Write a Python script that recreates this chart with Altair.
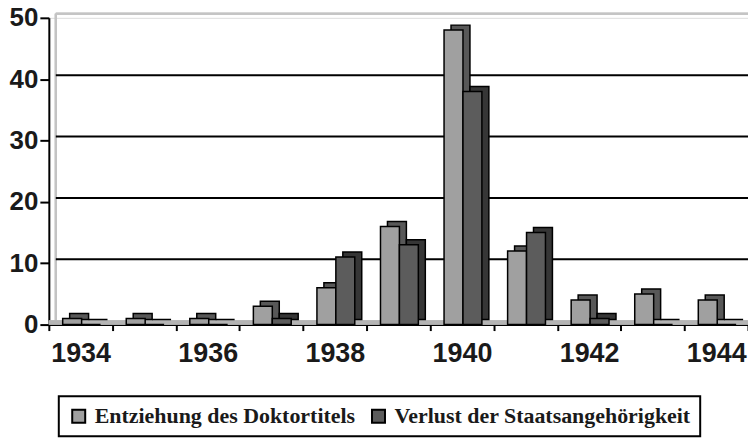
import altair as alt
import pandas as pd

years = ["1934", "1935", "1936", "1937", "1938", "1939", "1940", "1941", "1942", "1943", "1944"]
entziehung = [1, 1, 1, 3, 6, 16, 48, 12, 4, 5, 4]
verlust = [0, 0, 0, 1, 11, 13, 38, 15, 1, 0, 0]
series_names = ["Entziehung des Doktortitels", "Verlust der Staatsangehörigkeit"]
front_colors = ["#a0a0a0", "#5c5c5c"]
side_colors = ["#585858", "#363636"]
grid_values = [10, 20, 30, 40]

rows = []
for i, y in enumerate(years):
    rows.append({"year": y, "series": series_names[0], "value": entziehung[i]})
    rows.append({"year": y, "series": series_names[1], "value": verlust[i]})
df = pd.DataFrame(rows)
grid_df = pd.DataFrame({"v": grid_values})

W = 702
H = 308
DX = 7
DY = -5
GX = 7
GY = -4
BW = 19
SHIFT = 1

SANS = "Arial, 'Liberation Sans', Helvetica, sans-serif"
SERIF = "'Times New Roman', 'Liberation Serif', Times, serif"

xscale = alt.Scale(domain=years, paddingInner=0, paddingOuter=0)
yscale = alt.Scale(domain=[0, 50])

x_axis = alt.Axis(
    title=None, labelAngle=0, tickBand="extent",
    labelExpr="toNumber(datum.value) % 2 == 0 ? datum.label : ''",
    labelFont=SANS, labelFontWeight="bold", labelFontSize=27,
    labelColor="#1a1a1a", labelPadding=10, tickSize=6, tickWidth=2, tickColor="#000",
    domainColor="#000", domainWidth=2, grid=False,
)
y_axis = alt.Axis(
    title=None, values=[0, 10, 20, 30, 40, 50],
    labelFont=SANS, labelFontWeight="bold", labelFontSize=26,
    labelColor="#1a1a1a", labelPadding=2, tickSize=9, tickWidth=2,
    tickColor="#000", domainColor="#000", domainWidth=2, grid=False,
)

legend = alt.Legend(
    title=None, orient="none", legendX=10, legendY=380, direction="horizontal",
    strokeColor="#000", padding=9, fillColor="#fff",
    labelFont=SERIF, labelFontWeight="bold", labelFontSize=22,
    labelColor="#1a1a1a", labelLimit=0, symbolType="square", symbolSize=170,
    symbolStrokeColor="#000", symbolStrokeWidth=2, columnPadding=12, labelOffset=5,
    symbolOpacity=1,
)

walls_left = alt.Chart(grid_df).mark_rule(color="#c4c4c4", strokeWidth=2).encode(
    x=alt.value(GX), y=alt.value(GY), y2=alt.value(H + GY)
)
walls_top = alt.Chart(grid_df).mark_rule(color="#c4c4c4", strokeWidth=2, yOffset=GY).encode(
    y=alt.datum(50), x=alt.value(GX), x2=alt.value(W + 20)
)
floor = alt.Chart(grid_df).mark_rule(color="#b4b4b4", strokeWidth=4, yOffset=-2).encode(
    y=alt.datum(0), x=alt.value(0), x2=alt.value(W)
)
grid = alt.Chart(grid_df).mark_rule(color="#000", strokeWidth=2, yOffset=GY).encode(
    y=alt.Y("v:Q", scale=yscale, axis=y_axis), x=alt.value(GX), x2=alt.value(W)
)


def bars(idx, shadow):
    off = (-BW / 2 if idx == 0 else BW / 2) + SHIFT
    if shadow:
        mk = alt.Chart(df).mark_bar(stroke="#000", strokeWidth=1.5, width=BW,
                                    xOffset=off + DX, yOffset=DY, fill=side_colors[idx])
        enc = {}
    else:
        mk = alt.Chart(df).mark_bar(stroke="#000", strokeWidth=1.5, width=BW, xOffset=off)
        enc = {"color": alt.Color("series:N",
                                  scale=alt.Scale(domain=series_names, range=front_colors),
                                  legend=legend)}
    return mk.transform_filter(alt.datum.series == series_names[idx]).encode(
        x=alt.X("year:N", scale=xscale, axis=x_axis, sort=years),
        y=alt.Y("value:Q", scale=yscale, axis=y_axis),
        **enc,
    )


chart = alt.layer(
    walls_left, walls_top, floor, grid,
    bars(0, True), bars(0, False), bars(1, True), bars(1, False),
).properties(
    width=W, height=H,
    autosize=alt.AutoSizeParams(type="none"),
    padding={"left": 41, "top": 9, "right": 0, "bottom": 113},
).configure_view(stroke=None).configure(background="#ffffff").configure_legend(strokeWidth=2)

chart.save("out.html", embed_options={"renderer": "svg", "actions": False})
